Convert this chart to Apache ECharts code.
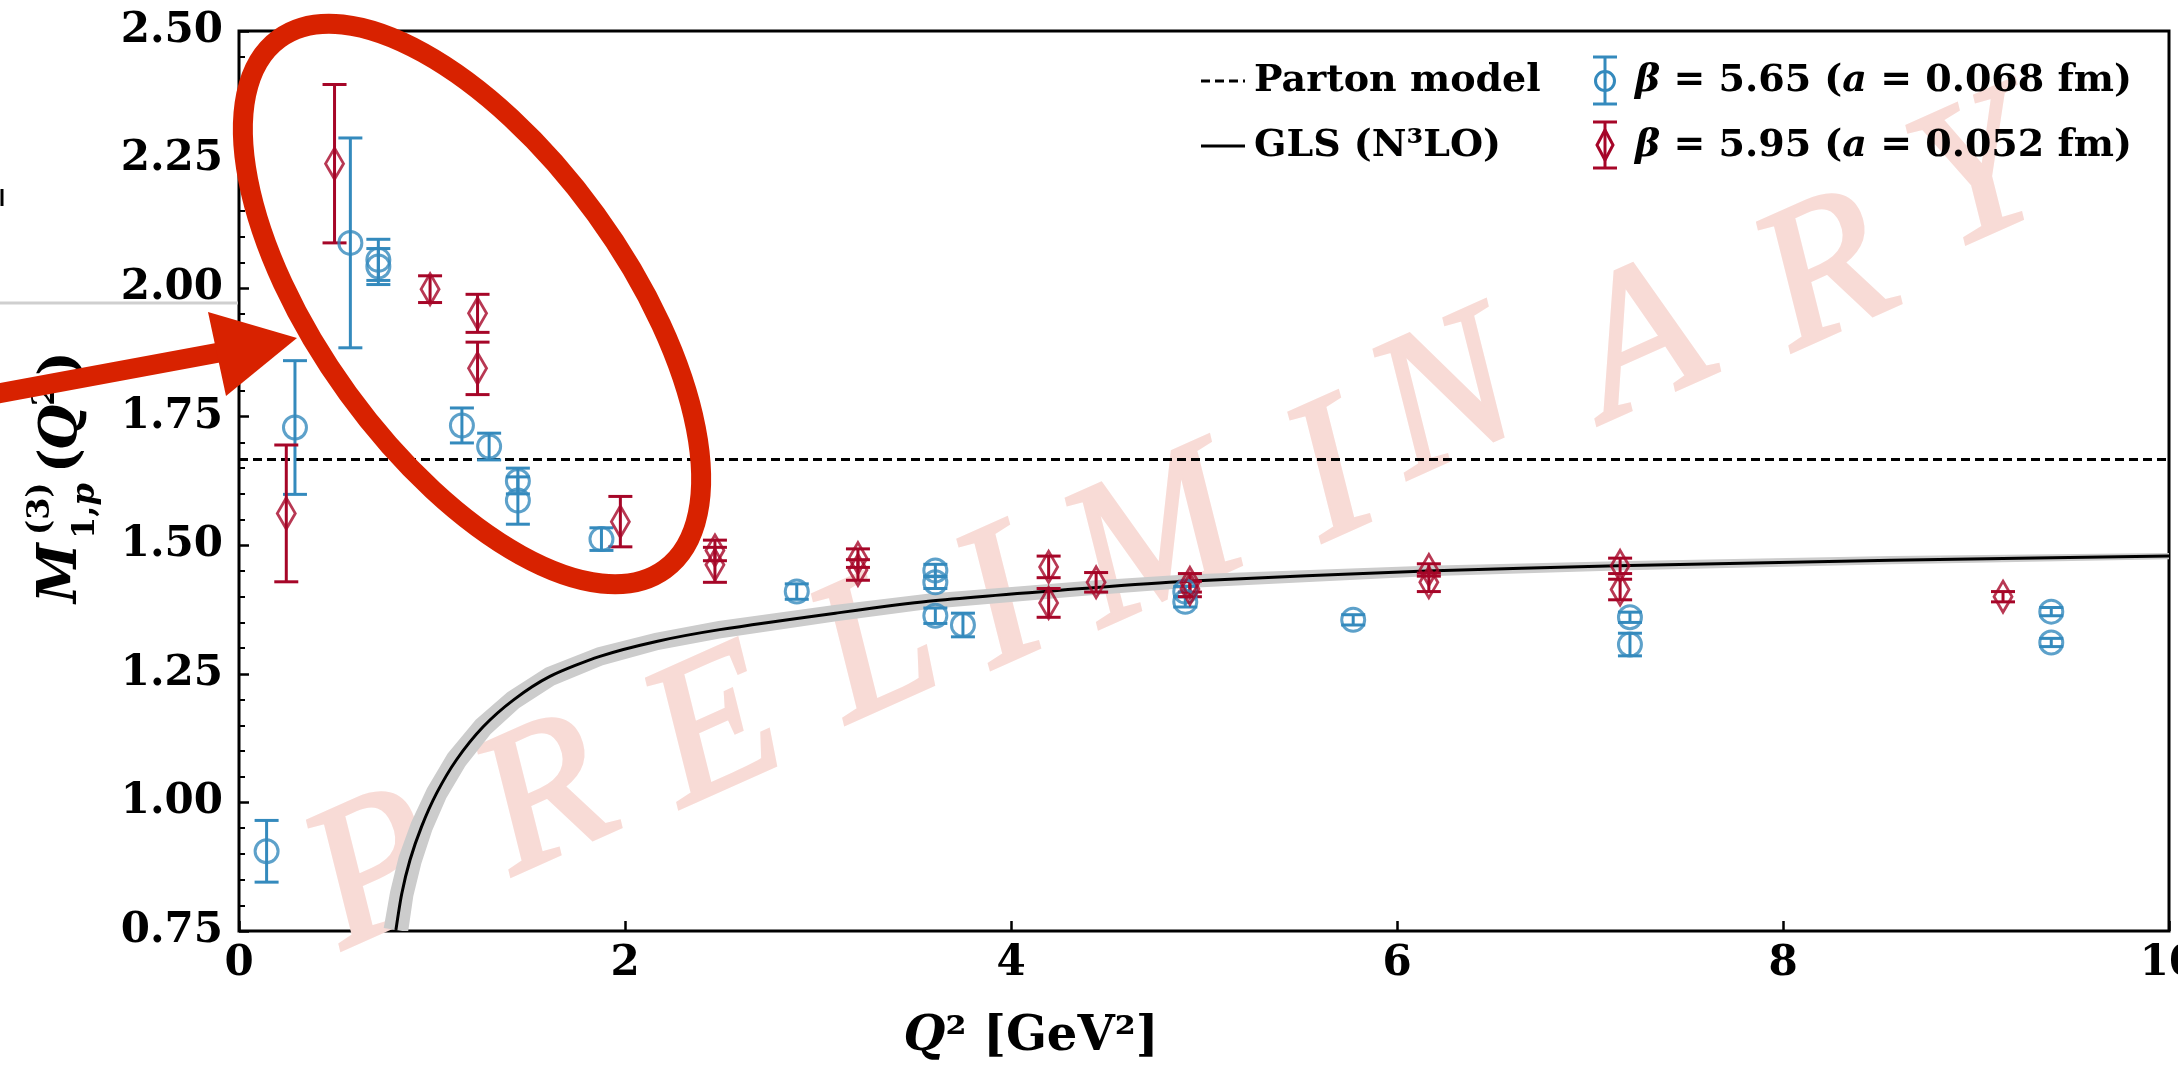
<!DOCTYPE html>
<html>
<head>
<meta charset="utf-8">
<title>M1p(3)(Q2)</title>
<script src="https://cdn.jsdelivr.net/npm/echarts@6/dist/echarts.min.js"></script>
<style>
    html, body { margin: 0; padding: 0; background: #fff; overflow: hidden; }
    #chart { width: 2178px; height: 1067px; }
</style>
</head>
<body>
<div id="chart"></div>
<script>
// beta = 5.65 (a = 0.068 fm)
const blueQ2 = [0.143, 0.29, 0.577, 0.722, 0.722, 1.155, 1.296, 1.445, 1.445, 1.878, 2.89, 3.608, 3.608, 3.608, 3.751, 4.903, 4.903, 5.773, 7.207, 7.207, 9.39, 9.39]
const blueM = [0.905, 1.729, 2.088, 2.055, 2.042, 1.733, 1.692, 1.625, 1.587, 1.512, 1.410, 1.451, 1.428, 1.363, 1.345, 1.410, 1.390, 1.355, 1.360, 1.307, 1.371, 1.311]
const blueErr = [0.060, 0.130, 0.204, 0.040, 0.035, 0.034, 0.026, 0.025, 0.046, 0.022, 0.015, 0.012, 0.012, 0.015, 0.023, 0.010, 0.010, 0.010, 0.010, 0.022, 0.008, 0.008]

// beta = 5.95 (a = 0.052 fm)
const redQ2 = [0.245, 0.495, 0.99, 1.236, 1.236, 1.976, 2.466, 2.466, 3.207, 3.207, 4.195, 4.195, 4.441, 4.927, 4.927, 6.165, 6.165, 7.156, 7.156, 9.14]
const redM = [1.562, 2.242, 1.998, 1.951, 1.844, 1.546, 1.490, 1.462, 1.475, 1.452, 1.458, 1.388, 1.428, 1.427, 1.415, 1.452, 1.428, 1.460, 1.414, 1.400]
const redErr = [0.133, 0.154, 0.026, 0.037, 0.051, 0.049, 0.020, 0.034, 0.018, 0.020, 0.021, 0.028, 0.019, 0.018, 0.015, 0.012, 0.018, 0.015, 0.020, 0.010]

// GLS (N3LO) curve and its band half width
const glsQ2 = [0.813, 0.843, 0.886, 0.946, 1.024, 1.127, 1.265, 1.421, 1.611, 1.870, 2.163, 2.491, 3.09, 3.571, 4.41, 4.909, 6.152, 7.141, 8.56, 10.0]
const glsM = [0.752, 0.822, 0.888, 0.953, 1.018, 1.083, 1.147, 1.199, 1.245, 1.284, 1.313, 1.336, 1.368, 1.391, 1.417, 1.430, 1.450, 1.460, 1.471, 1.479]
const glsErr = [0.024, 0.023, 0.023, 0.022, 0.021, 0.021, 0.020, 0.019, 0.019, 0.018, 0.017, 0.017, 0.016, 0.015, 0.014, 0.013, 0.010, 0.009, 0.008, 0.006]

// parton model
const partonQ2 = [0, 10]
const partonM = [1.667, 1.667]

const BLUE = '#348ABD'
const RED = '#A60628'
const ANNOT = '#d82200'
const FONT = '"DejaVu Serif"'
const CAP = 12

const watermark = ['P', 'R', 'E', 'L', 'I', 'M', 'I', 'N', 'A', 'R', 'Y']
const watermarkPos = [[377, 876], [547, 802], [716, 734], [877, 652], [1001, 607], [1156, 545], [1332, 480], [1448, 403], [1642, 347], [1827, 278], [1979, 180]]

function errorBars(q2, m, err, color) {
    return {
        type: 'custom',
        z: 3,
        silent: true,
        data: q2.map((q, i) => [q, m[i], err[i]]),
        encode: { x: 0, y: 1 },
        renderItem(params, api) {
            const q = api.value(0)
            const v = api.value(1)
            const e = api.value(2)
            const hi = api.coord([q, v + e])
            const lo = api.coord([q, v - e])
            const st = { stroke: color, lineWidth: 3 }
            return {
                type: 'group',
                children: [
                    { type: 'line', shape: { x1: hi[0], y1: hi[1], x2: lo[0], y2: lo[1] }, style: st },
                    { type: 'line', shape: { x1: hi[0] - CAP, y1: hi[1], x2: hi[0] + CAP, y2: hi[1] }, style: st },
                    { type: 'line', shape: { x1: lo[0] - CAP, y1: lo[1], x2: lo[0] + CAP, y2: lo[1] }, style: st }
                ]
            }
        }
    }
}

// band: offset the curve along its normal, width taken from glsErr
function renderBand(params, api) {
    const pts = glsQ2.map((q, i) => api.coord([q, glsM[i]]))
    const half = glsQ2.map((q, i) => Math.abs(api.coord([q, glsM[i] + glsErr[i]])[1] - pts[i][1]))
    const upper = []
    const lower = []
    pts.forEach((p, i) => {
        const a = pts[Math.max(i - 1, 0)]
        const b = pts[Math.min(i + 1, pts.length - 1)]
        let dx = b[0] - a[0]
        let dy = b[1] - a[1]
        const len = Math.hypot(dx, dy)
        dx /= len
        dy /= len
        upper.push([p[0] + dy * half[i], p[1] - dx * half[i]])
        lower.push([p[0] - dy * half[i], p[1] + dx * half[i]])
    })
    const cs = params.coordSys
    return {
        type: 'polygon',
        shape: { points: upper.concat(lower.reverse()) },
        style: { fill: '#cccccc' },
        clipPath: { type: 'rect', shape: { x: cs.x, y: cs.y, width: cs.width, height: cs.height } }
    }
}

const chart = echarts.init(document.getElementById('chart'))

const graphics = []

// watermark
watermark.forEach((ch, i) => {
    graphics.push({
        type: 'text', x: watermarkPos[i][0], y: watermarkPos[i][1], rotation: 0.42, z: 0, silent: true,
        style: {
            text: ch, font: 'italic 200px "Liberation Serif"', fill: '#f8dbd6',
            stroke: '#f8dbd6', lineWidth: 4, align: 'center', verticalAlign: 'middle'
        }
    })
})

// leftovers of the slide on the left edge
graphics.push(
    { type: 'line', z: 0, shape: { x1: 0, y1: 303, x2: 238, y2: 303 }, style: { stroke: '#cfcfcf', lineWidth: 3 } },
    { type: 'line', z: 0, shape: { x1: 2, y1: 189, x2: 2, y2: 206 }, style: { stroke: '#000', lineWidth: 3 } }
)

// y axis title  M^(3)_{1,p}(Q^2)
const yt = (text, x, y, size, italic) => ({
    type: 'text', x, y,
    style: { text, font: (italic ? 'italic ' : '') + 'bold ' + size + 'px ' + FONT, fill: '#000', align: 'left', verticalAlign: 'middle' }
})
graphics.push({
    type: 'group', x: 62, y: 603, rotation: Math.PI / 2, z: 5,
    children: [
        yt('M', 0, 0, 54, true),
        yt('(3)', 68, -21, 32, false),
        {
            type: 'text', x: 64, y: 24,
            style: { text: '1,{i|p}', font: 'bold 32px ' + FONT, fill: '#000', align: 'left', verticalAlign: 'middle', rich: { i: { font: 'italic bold 32px ' + FONT } } }
        },
        yt('(', 130, 0, 52, false),
        yt('Q', 153, 0, 52, true),
        yt('2', 197, -16, 32, false),
        yt(')', 227, 0, 52, false)
    ]
})

// x axis title
graphics.push({
    type: 'text', x: 1031, y: 1038, z: 5,
    style: { text: '{i|Q}² [GeV²]', font: 'bold 48px ' + FONT, fill: '#000', align: 'center', verticalAlign: 'middle', rich: { i: { font: 'italic bold 48px ' + FONT } } }
})

// legend
const lg = { font: 'bold 38px ' + FONT, fill: '#000', align: 'left', verticalAlign: 'middle', rich: { i: { font: 'italic bold 38px ' + FONT } } }
graphics.push(
    { type: 'line', z: 5, shape: { x1: 1201, y1: 81, x2: 1245, y2: 81 }, style: { stroke: '#000', lineWidth: 3, lineDash: [9, 5] } },
    { type: 'text', z: 5, x: 1254, y: 81, style: Object.assign({ text: 'Parton model' }, lg) },
    { type: 'line', z: 5, shape: { x1: 1201, y1: 146, x2: 1245, y2: 146 }, style: { stroke: '#000', lineWidth: 3 } },
    { type: 'text', z: 5, x: 1254, y: 146, style: Object.assign({ text: 'GLS (N³LO)' }, lg) },
    { type: 'line', z: 5, shape: { x1: 1605, y1: 57, x2: 1605, y2: 104 }, style: { stroke: BLUE, lineWidth: 3 } },
    { type: 'line', z: 5, shape: { x1: 1593, y1: 57, x2: 1617, y2: 57 }, style: { stroke: BLUE, lineWidth: 3 } },
    { type: 'line', z: 5, shape: { x1: 1593, y1: 104, x2: 1617, y2: 104 }, style: { stroke: BLUE, lineWidth: 3 } },
    { type: 'circle', z: 5, shape: { cx: 1605, cy: 81, r: 9.5 }, style: { fill: 'none', stroke: BLUE, lineWidth: 3 } },
    { type: 'text', z: 5, x: 1635, y: 81, style: Object.assign({ text: '{i|β} = 5.65 ({i|a} = 0.068 fm)' }, lg) },
    { type: 'line', z: 5, shape: { x1: 1605, y1: 122, x2: 1605, y2: 168 }, style: { stroke: RED, lineWidth: 3 } },
    { type: 'line', z: 5, shape: { x1: 1593, y1: 122, x2: 1617, y2: 122 }, style: { stroke: RED, lineWidth: 3 } },
    { type: 'line', z: 5, shape: { x1: 1593, y1: 168, x2: 1617, y2: 168 }, style: { stroke: RED, lineWidth: 3 } },
    { type: 'polygon', z: 5, shape: { points: [[1605, 130], [1613, 145], [1605, 160], [1597, 145]] }, style: { fill: 'none', stroke: RED, lineWidth: 3 } },
    { type: 'text', z: 5, x: 1635, y: 146, style: Object.assign({ text: '{i|β} = 5.95 ({i|a} = 0.052 fm)' }, lg) }
)

// red annotation: ellipse and arrow
graphics.push(
    { type: 'ellipse', z: 100, x: 472, y: 304, rotation: -0.9425, shape: { cx: 0, cy: 0, rx: 328, ry: 153 }, style: { fill: 'none', stroke: ANNOT, lineWidth: 20 } },
    { type: 'line', z: 100, shape: { x1: -5, y1: 394, x2: 222, y2: 352 }, style: { stroke: ANNOT, lineWidth: 20 } },
    { type: 'polygon', z: 100, shape: { points: [[297, 338], [208, 312], [226, 396]] }, style: { fill: ANNOT } }
)

chart.setOption({
    animation: false,
    backgroundColor: '#fff',
    grid: {
        left: 239,
        top: 31,
        width: 1930,
        height: 900,
        outerBoundsMode: 'none',
        containLabel: false,
        show: true,
        borderColor: '#000',
        borderWidth: 3,
        backgroundColor: 'transparent'
    },
    xAxis: {
        type: 'value',
        min: 0,
        max: 10,
        interval: 2,
        axisLine: { show: false },
        axisTick: { inside: true, length: 10, lineStyle: { color: '#000', width: 2.5 } },
        splitLine: { show: false },
        axisLabel: { margin: 12, color: '#000', fontSize: 42, fontWeight: 'bold', fontFamily: 'DejaVu Serif', hideOverlap: false }
    },
    yAxis: {
        type: 'value',
        min: 0.75,
        max: 2.5,
        interval: 0.25,
        axisLine: { show: false },
        axisTick: { inside: true, length: 10, lineStyle: { color: '#000', width: 2.5 } },
        minorTick: { show: true, splitNumber: 5, length: 6, lineStyle: { color: '#000', width: 2 } },
        splitLine: { show: false },
        axisLabel: {
            margin: 16, color: '#000', fontSize: 42, fontWeight: 'bold', fontFamily: 'DejaVu Serif',
            formatter: v => v.toFixed(2)
        }
    },
    graphic: graphics,
    series: [
        { type: 'custom', z: 1, silent: true, data: [[glsQ2[0], glsM[0]]], renderItem: renderBand },
        {
            name: 'GLS (N3LO)', type: 'line', z: 2, silent: true, symbol: 'none', smooth: 0.25,
            data: glsQ2.map((q, i) => [q, glsM[i]]),
            lineStyle: { color: '#000', width: 3 }
        },
        {
            name: 'Parton model', type: 'line', z: 2, silent: true, symbol: 'none',
            data: partonQ2.map((q, i) => [q, partonM[i]]),
            lineStyle: { color: '#000', width: 3, type: [9, 5] }
        },
        errorBars(blueQ2, blueM, blueErr, BLUE),
        {
            name: 'beta=5.65', type: 'scatter', z: 4, silent: true, symbol: 'circle', symbolSize: 23,
            data: blueQ2.map((q, i) => [q, blueM[i]]),
            itemStyle: { color: 'rgba(0,0,0,0)', borderColor: BLUE, borderWidth: 3 }
        },
        errorBars(redQ2, redM, redErr, RED),
        {
            name: 'beta=5.95', type: 'scatter', z: 4, silent: true, symbol: 'diamond', symbolSize: [18, 31],
            data: redQ2.map((q, i) => [q, redM[i]]),
            itemStyle: { color: 'rgba(0,0,0,0)', borderColor: RED, borderWidth: 3 }
        }
    ]
})
</script>
</body>
</html>
